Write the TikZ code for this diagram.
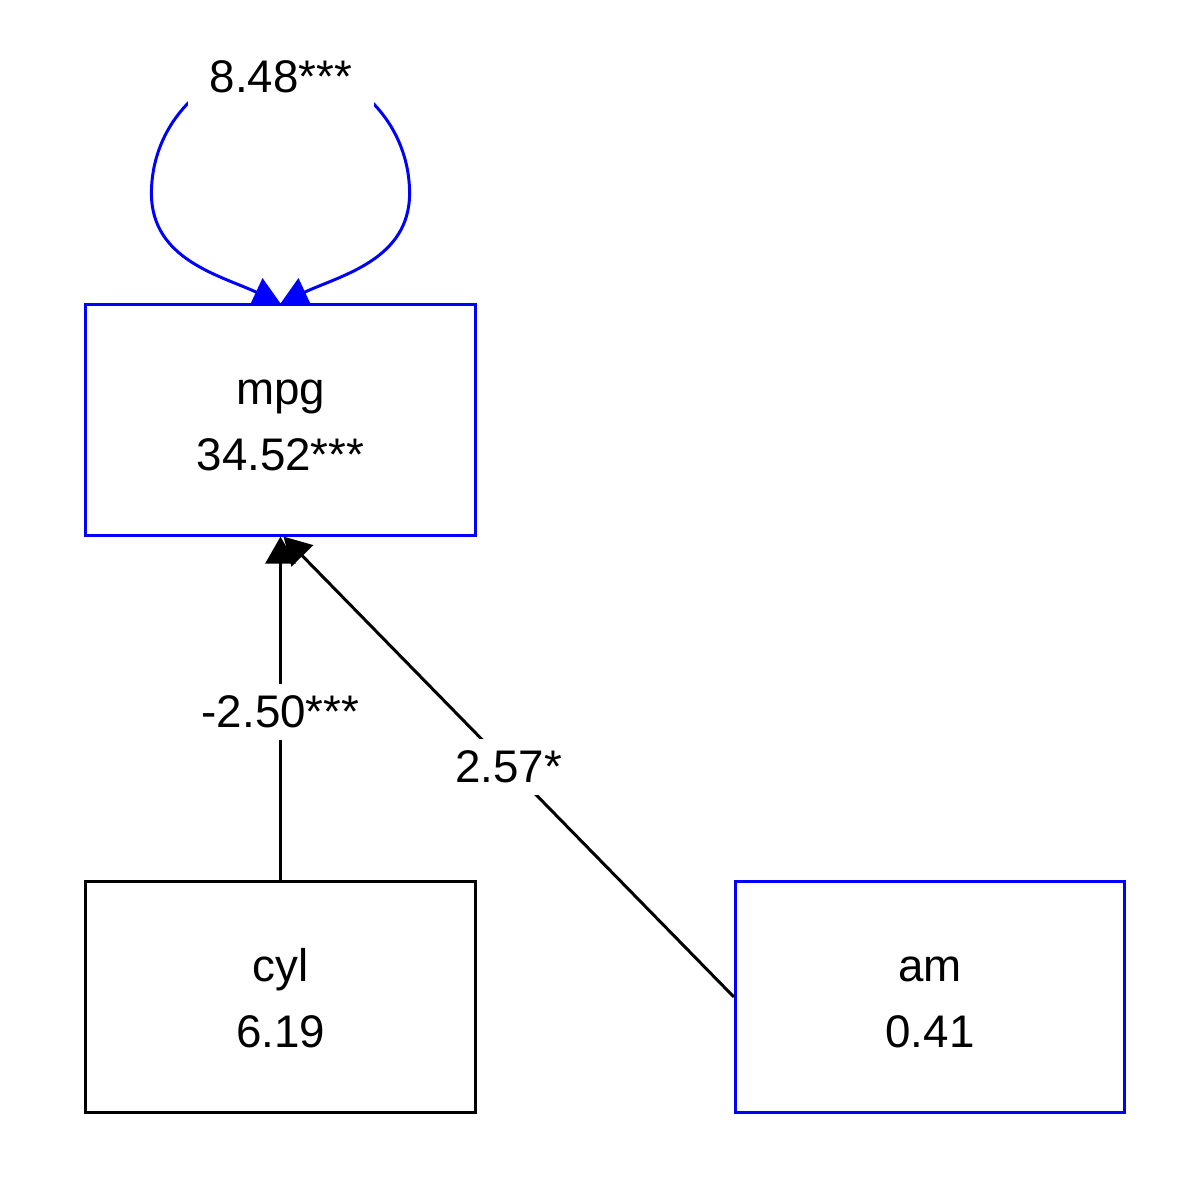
\documentclass[tikz,border=0pt]{standalone}
\usepackage{fontspec}
\setmainfont{Liberation Sans}
\usetikzlibrary{arrows.meta}
\newcommand{\topstrut}{\rule{0pt}{10.3pt}}
\tikzset{semtip/.tip={Triangle[length=0.27cm,width=0.3cm]}}
\begin{document}
\begin{tikzpicture}[x=0.01cm,y=-0.01cm]
\tikzstyle{every node}+=[font=\fontsize{13}{18.8}\selectfont]
\tikzstyle{var}=[draw, line width=0.85pt, minimum width=3.89cm, minimum height=2.30cm, inner sep=0pt, align=center]
\tikzstyle{path}=[draw=black, line width=0.85pt, -semtip]
\tikzstyle{lab}=[fill=white, inner sep=0.12cm]
\useasboundingbox (0,0) rectangle (1200,1200);
\node [var, draw=blue] (mpg) at (280.5,420) {\topstrut mpg\\34.52***};
\node [var, draw=black] (cyl) at (280.5,997) {\topstrut cyl\\6.19};
\node [var, draw=blue] (am) at (930,997) {\topstrut am\\0.41};
\draw [path] (cyl.north) -- (mpg.south) node [lab, pos=0.49] (lcyl) {-2.50***};
\draw [path] (am.west) -- ([xshift=0.03cm]mpg.south) node [lab, pos=0.5] (lam) {2.57*};
% variance loop
\coordinate (loopleft) at ([shift={(-1.29cm,1.1cm)}]mpg.north);
\coordinate (looptop) at ([yshift=2.39cm]mpg.north);
\coordinate (loopright) at ([shift={(1.29cm,1.1cm)}]mpg.north);
\draw [blue, line width=0.85pt, semtip-semtip] (mpg.north) to [out=155, in=270] (loopleft)
  to [out=90, in=180] (looptop) to [out=0, in=90] (loopright) to [out=270, in=25] (mpg.north);
\node [lab, inner sep=0pt, minimum width=1.85cm, minimum height=0.6cm] (lmpg) at (281,77) {8.48***};
\end{tikzpicture}
\end{document}
